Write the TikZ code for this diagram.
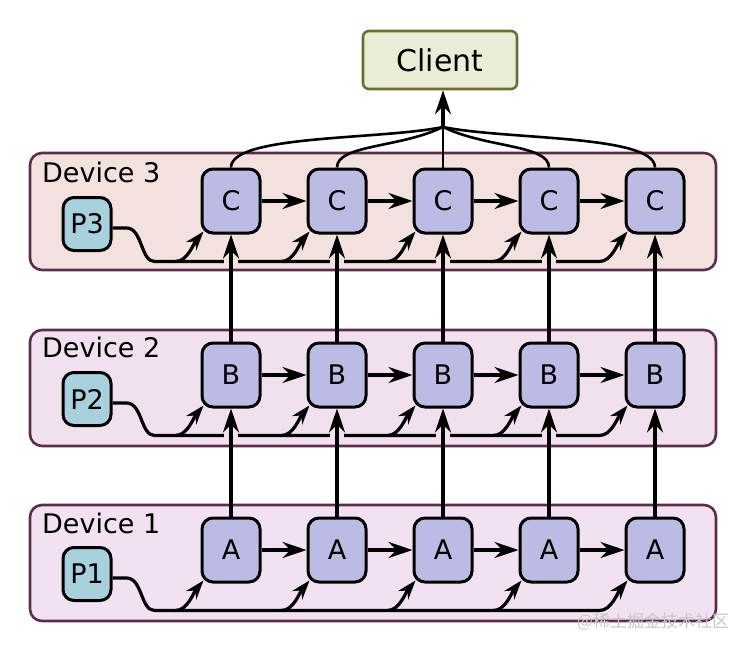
\documentclass[tikz,border=0pt]{standalone}
\usepackage{fontspec}
\setmainfont{DejaVu Sans}
\newfontfamily\cjkfont{Noto Sans CJK SC}
\usepackage{xcolor}
\usetikzlibrary{arrows.meta, calc}
\usetikzlibrary{positioning}

\definecolor{procfill}{HTML}{BBBBE3}
\definecolor{pfill}{HTML}{A8D1DD}
\definecolor{devthree}{HTML}{F3E1E0}
\definecolor{devtwo}{HTML}{F1E1EF}
\definecolor{devone}{HTML}{F1E1F1}
\definecolor{devborder}{HTML}{5C2D4B}
\definecolor{clientfill}{HTML}{E9EDD5}
\definecolor{clientborder}{HTML}{6C6E35}

\begin{document}
\begin{tikzpicture}[x=1pt, y=-1pt,
  every node/.style={font=\fontsize{27}{32}\selectfont},
  panel/.style={draw=devborder, line width=2.6pt, rounded corners=12pt},
  devlabel/.style={anchor=base west, inner sep=0pt, font=\fontsize{27}{32}\selectfont},
  proc/.style={draw, line width=3pt, fill=procfill, rounded corners=11pt,
    minimum width=58pt, minimum height=64pt, inner sep=0pt},
  prog/.style={draw, line width=3pt, fill=pfill, rounded corners=11pt,
    minimum width=48pt, minimum height=53pt, inner sep=0pt},
  wire/.style={line width=3.2pt, -{Stealth[length=24pt, width=16pt, inset=8pt]}},
  tap/.style={line width=3.2pt, -{Stealth[length=19pt, width=13pt, inset=6pt]}}]

\useasboundingbox (0,0) rectangle (741,650);

% devices
\draw[panel, fill=devthree] (30,153) rectangle (716,270);
\draw[panel, fill=devtwo] (30,330) rectangle (716,446);
\draw[panel, fill=devone] (30,505) rectangle (716,621);
\node[devlabel] (lab3) at (42,182) {Device 3};
\node[devlabel] (lab2) at (42,357) {Device 2};
\node[devlabel] (lab1) at (42,533) {Device 1};

% client
\node[draw=clientborder, line width=2.6pt, fill=clientfill, rounded corners=6pt,
  minimum width=154pt, minimum height=58pt, font=\fontsize{30}{34}\selectfont] (client) at (440,60) {Client};

% programs
\node[prog] (P3) at (87,224) {P3};
\node[prog] (P2) at (87,399) {P2};
\node[prog] (P1) at (87,574) {P1};

% stages
\foreach \i in {1,...,5} {
  \node[proc] (C\i) at (125+106*\i,201) {C};
  \node[proc] (B\i) at (125+106*\i,375) {B};
  \node[proc] (A\i) at (125+106*\i,550) {A};
}

% program buses
\foreach \r/\p in {C/P3, B/P2, A/P1} {
  \draw[tap] ([yshift=-4pt]\p.east) -- ++(14,0) .. controls +(16,0) and +(-14,0) .. ($(\r1.south west)+(-46,27)$)
    -- ($(\r5.south west)+(-25,27)$) .. controls +(12,0) and +(-10,12) .. ($(\r5.south west)+(3,-3)$);
  \foreach \i in {1,...,4}
    \draw[tap] ($(\r\i.south west)+(-25,27)$) .. controls +(12,0) and +(-10,12) .. ($(\r\i.south west)+(3,-3)$);
}

% gaps in the buses
\foreach \i in {1,...,4} {
  \fill[devthree] ($(C\i.south)+(-7,22)$) rectangle ($(C\i.south)+(7,32)$);
  \fill[devtwo] ($(B\i.south)+(-7,22)$) rectangle ($(B\i.south)+(7,32)$);
}

% pipeline
\foreach \i/\j in {1/2, 2/3, 3/4, 4/5} {
  \draw[wire] (C\i.east) -- (C\j.west);
  \draw[wire] (B\i.east) -- (B\j.west);
  \draw[wire] (A\i.east) -- (A\j.west);
}
\foreach \i in {1,...,5} {
  \draw[wire] (A\i.north) -- (B\i.south);
  \draw[wire] (B\i.north) -- (C\i.south);
}

% outputs to client
\coordinate (join) at (443,127);
\draw[line width=2.6pt] (C1.north) .. controls +(0,-33) and +(-63,13) .. (join);
\draw[line width=2.6pt] (C2.north) .. controls +(0,-23) and +(-43,21) .. (join);
\draw[line width=2.6pt] (C3.north) -- (join);
\draw[line width=2.6pt] (C4.north) .. controls +(0,-23) and +(43,21) .. (join);
\draw[line width=2.6pt] (C5.north) .. controls +(0,-33) and +(63,13) .. (join);
\draw[wire] (join) -- (join |- client.south);

\node[text=black!22, font=\cjkfont\fontsize{17}{20}\selectfont] (mark) at (653,622) {@稀土掘金技术社区};
\end{tikzpicture}
\end{document}
